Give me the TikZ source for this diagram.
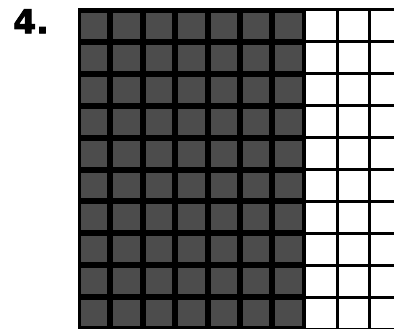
\documentclass[tikz,border=0pt]{standalone}
\usepackage{fontspec}
\newfontfamily\labelfont{DejaVu Sans}[BoldFeatures={FakeBold=2.5}]
\usetikzlibrary{positioning}

\begin{document}
\begin{tikzpicture}[x=1pt, y=-1pt,
    gridline/.style={line width=3pt, black},
    shadedcell/.style={fill=black!70},
    numlabel/.style={font=\labelfont\bfseries\fontsize{33}{33}\selectfont, inner sep=0pt, anchor=north west}]
  \useasboundingbox (0,0) rectangle (394,329);

  \node[numlabel] (num) at (13,9) {4.};

  % shaded columns
  \fill[black] (78,8.5) rectangle (304.8,329);
  \foreach \c in {0,...,6}
    \foreach \r in {0,...,9}
      \fill[shadedcell] ({78+\c*32.4+3},{10+\r*31.9+3}) rectangle ++(26.4,25.9);

  % white columns
  \foreach \c in {7,8,9}
    \draw[gridline] ({78+\c*32.4},10) -- ({78+\c*32.4},329);
  \foreach \r in {0,...,10}
    \draw[gridline] (304.8,{10+\r*31.9}) -- (394,{10+\r*31.9});
\end{tikzpicture}
\end{document}
